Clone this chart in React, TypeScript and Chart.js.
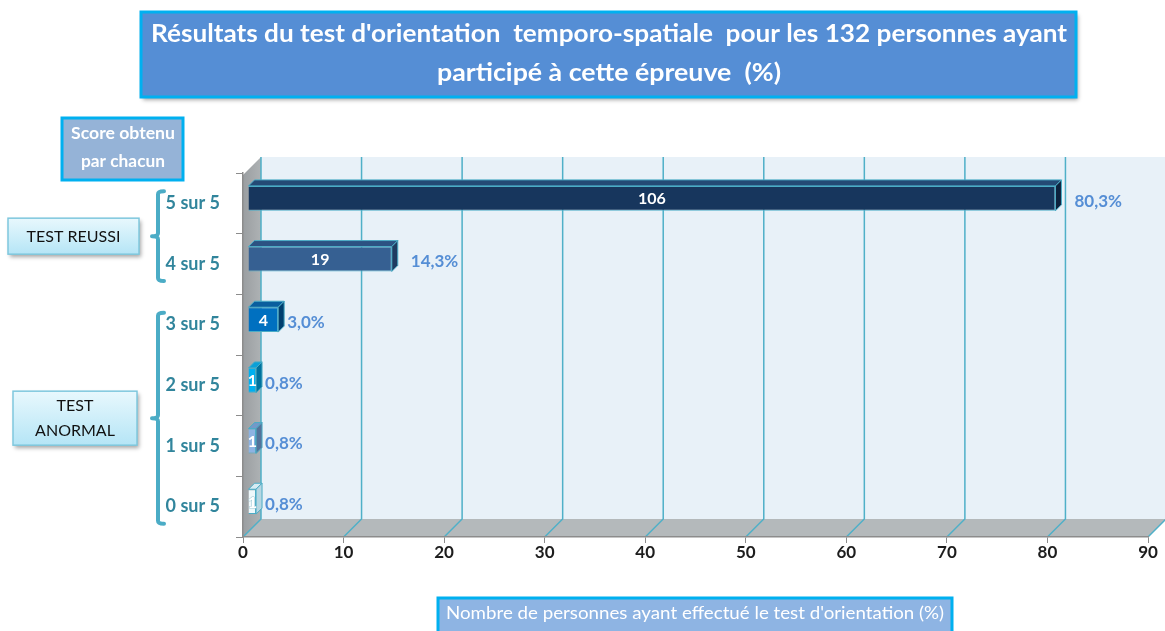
import React, { useEffect, useRef } from 'react';
import { Chart, registerables } from 'chart.js';

Chart.register(...registerables);

// ---------- data ----------
const categories = ['5 sur 5', '4 sur 5', '3 sur 5', '2 sur 5', '1 sur 5', '0 sur 5'];
const percentages = [80.3, 14.3, 3.0, 0.8, 0.8, 0.8];
const counts = [106, 19, 4, 1, 1, 1];
const percentLabels = ['80,3%', '14,3%', '3,0%', '0,8%', '0,8%', '0,8%'];
const xMin = 0;
const xMax = 90;
const xStep = 10;
const titleLines = [
  "Résultats du test d'orientation  temporo-spatiale  pour les 132 personnes ayant",
  'participé à cette épreuve  (%)',
];
const xAxisTitle = "Nombre de personnes ayant effectué le test d'orientation (%)";
const yAxisTitle = ['Score obtenu', 'par chacun'];
const groupLabels = [['TEST REUSSI'], ['TEST', 'ANORMAL']];
const groupFrom = [0, 2];
const groupTo = [1, 5];

// ---------- styles ----------
const FONT = "Lato, 'Open Sans', sans-serif";
const frontColors = ['#17365d', '#366092', '#0070c0', '#00b0f0', '#8db3e2', '#eef8fb'];
const topColors = ['#244a75', '#2c5282', '#0a5e9e', '#0aa0d8', '#7399c8', '#d6ebf2'];
const sideColors = ['#0d223d', '#1f3b60', '#003f6e', '#00729e', '#55739a', '#b6d6e2'];
const DEPTH = 18; // wall depth
const BAR_SHIFT_X = 5;
const BAR_SHIFT_Y = -5;
const BAR_D = 6; // bar depth
const Y_AXIS_W = 100;
const X_AXIS_H = 40;

function fitText(ctx: CanvasRenderingContext2D, text: string, cx: number, cy: number, target?: number) {
  ctx.save();
  ctx.textAlign = 'center';
  ctx.textBaseline = 'middle';
  if (target) {
    const w = ctx.measureText(text).width;
    ctx.translate(cx, cy);
    ctx.scale(target / w, 1);
    ctx.fillText(text, 0, 0);
  } else {
    ctx.fillText(text, cx, cy);
  }
  ctx.restore();
}

function box(ctx: CanvasRenderingContext2D, x: number, y: number, w: number, h: number, fill: string | CanvasGradient, stroke: string, lw: number, shadow = true) {
  ctx.save();
  if (shadow) {
    ctx.shadowColor = 'rgba(0,0,0,0.35)';
    ctx.shadowBlur = 4;
    ctx.shadowOffsetX = 2;
    ctx.shadowOffsetY = 3;
  }
  ctx.fillStyle = fill;
  ctx.fillRect(x, y, w, h);
  ctx.restore();
  ctx.save();
  ctx.strokeStyle = stroke;
  ctx.lineWidth = lw;
  ctx.strokeRect(x, y, w, h);
  ctx.restore();
}

const wallsPlugin = {
  id: 'walls3d',
  beforeDraw(chart: any) {
    const { ctx, chartArea, scales } = chart;
    const xs = scales.x;
    const L = chartArea.left, R = chartArea.right, T = chartArea.top, B = chartArea.bottom;
    ctx.save();
    // back wall
    ctx.fillStyle = '#e8f1f8';
    ctx.fillRect(L + DEPTH, T - DEPTH + 2, R - L, B - T - 2);
    // left wall
    const lg = ctx.createLinearGradient(L, 0, L + DEPTH, 0);
    lg.addColorStop(0, '#9a9ea1');
    lg.addColorStop(1, '#aeb2b4');
    ctx.fillStyle = lg;
    ctx.beginPath();
    ctx.moveTo(L, T + 2);
    ctx.lineTo(L + DEPTH, T - DEPTH + 2);
    ctx.lineTo(L + DEPTH, B - DEPTH);
    ctx.lineTo(L, B);
    ctx.closePath();
    ctx.fill();
    // floor
    ctx.fillStyle = '#b4b9bb';
    ctx.beginPath();
    ctx.moveTo(L, B);
    ctx.lineTo(L + DEPTH, B - DEPTH);
    ctx.lineTo(R + DEPTH, B - DEPTH);
    ctx.lineTo(R, B);
    ctx.closePath();
    ctx.fill();
    // grid lines on back wall and floor
    ctx.strokeStyle = '#4fb0c8';
    ctx.lineWidth = 1.5;
    for (let v = xMin; v <= xMax; v += xStep) {
      const px = xs.getPixelForValue(v);
      ctx.beginPath();
      ctx.moveTo(px + DEPTH, T - DEPTH + 2);
      ctx.lineTo(px + DEPTH, B - DEPTH);
      ctx.lineTo(px, B);
      ctx.stroke();
    }
    ctx.restore();
  },
};

const bars3dPlugin = {
  id: 'bars3d',
  beforeDatasetsDraw(chart: any) {
    chart.ctx.save();
    chart.ctx.translate(BAR_SHIFT_X, BAR_SHIFT_Y);
  },
  afterDatasetsDraw(chart: any) {
    const ctx = chart.ctx;
    ctx.restore();
    const meta = chart.getDatasetMeta(0);
    meta.data.forEach((el: any, i: number) => {
      const p = el.getProps(['x', 'y', 'base', 'height'], true);
      const L = Math.min(p.x, p.base) + BAR_SHIFT_X;
      const R = Math.max(p.x, p.base) + BAR_SHIFT_X;
      const T = p.y - p.height / 2 + BAR_SHIFT_Y;
      const Bt = p.y + p.height / 2 + BAR_SHIFT_Y;
      const cy = p.y + BAR_SHIFT_Y;
      ctx.save();
      ctx.strokeStyle = '#4bacc6';
      ctx.lineWidth = 1;
      ctx.lineJoin = 'round';
      // top face
      ctx.fillStyle = topColors[i];
      ctx.beginPath();
      ctx.moveTo(L, T);
      ctx.lineTo(L + BAR_D, T - BAR_D);
      ctx.lineTo(R + BAR_D, T - BAR_D);
      ctx.lineTo(R, T);
      ctx.closePath();
      ctx.fill();
      ctx.stroke();
      // side face
      ctx.fillStyle = sideColors[i];
      ctx.beginPath();
      ctx.moveTo(R, T);
      ctx.lineTo(R + BAR_D, T - BAR_D);
      ctx.lineTo(R + BAR_D, Bt - BAR_D);
      ctx.lineTo(R, Bt);
      ctx.closePath();
      ctx.fill();
      ctx.stroke();
      // count label
      ctx.fillStyle = '#ffffff';
      ctx.font = `bold 16px ${FONT}`;
      ctx.textAlign = 'center';
      ctx.textBaseline = 'middle';
      if (i === counts.length - 1) {
        ctx.strokeStyle = '#9fc7d4';
        ctx.lineWidth = 1;
        ctx.strokeText(String(counts[i]), (L + R) / 2, cy + 1);
      }
      ctx.fillText(String(counts[i]), (L + R) / 2, cy + 1);
      // percent label
      const gap = percentages[i] > 10 ? 13 : 3;
      ctx.fillStyle = '#558ed5';
      ctx.font = `bold 17px ${FONT}`;
      ctx.textAlign = 'left';
      ctx.fillText(percentLabels[i], R + BAR_D + gap, cy + 3);
      ctx.restore();
    });
  },
};

const annotationsPlugin = {
  id: 'annotations',
  afterDraw(chart: any) {
    const { ctx, scales } = chart;
    const ys = scales.y;
    // Title
    box(ctx, 141, 12, 935, 85, '#558ed5', '#00b0f0', 3);
    ctx.save();
    ctx.fillStyle = '#ffffff';
    ctx.font = `bold 25px ${FONT}`;
    fitText(ctx, titleLines[0], 609, 34, 916);
    fitText(ctx, titleLines[1], 609, 73, 344);
    ctx.restore();

    // y axis title
    box(ctx, 62, 118, 121, 62, '#95b3d7', '#00b0f0', 3, false);
    ctx.save();
    ctx.fillStyle = '#ffffff';
    ctx.font = `bold 17px ${FONT}`;
    fitText(ctx, yAxisTitle[0], 123, 134, 104);
    fitText(ctx, yAxisTitle[1], 123, 162, 84);
    ctx.restore();

    // x axis title
    box(ctx, 438, 598, 514, 40, '#8eb4e3', '#00b0f0', 3, false);
    ctx.save();
    ctx.fillStyle = '#ffffff';
    ctx.font = `17px ${FONT}`;
    fitText(ctx, xAxisTitle, 695, 614, 498);
    ctx.restore();

    // groups with brackets
    groupLabels.forEach((lines, g) => {
      const yTop = ys.getPixelForValue(groupFrom[g]) - 12;
      const yBot = ys.getPixelForValue(groupTo[g]) + 17;
      const mid = (yTop + yBot) / 2;
      const bx = 158;
      ctx.save();
      ctx.strokeStyle = '#4bacc6';
      ctx.lineWidth = 4;
      ctx.lineCap = 'round';
      ctx.lineJoin = 'round';
      ctx.beginPath();
      ctx.moveTo(bx + 6, yTop);
      ctx.quadraticCurveTo(bx, yTop, bx, yTop + 3);
      ctx.lineTo(bx, mid - 3);
      ctx.quadraticCurveTo(bx, mid, bx - 6, mid);
      ctx.quadraticCurveTo(bx, mid, bx, mid + 3);
      ctx.lineTo(bx, yBot - 3);
      ctx.quadraticCurveTo(bx, yBot, bx + 6, yBot);
      ctx.stroke();
      ctx.restore();

      const h = lines.length === 1 ? 36 : 54;
      const w = lines.length === 1 ? 131 : 124;
      const x0 = lines.length === 1 ? 8 : 13;
      const y0 = mid - h / 2;
      const grad = ctx.createLinearGradient(0, y0, 0, y0 + h);
      grad.addColorStop(0, '#e8f8fd');
      grad.addColorStop(1, '#b5e5f6');
      box(ctx, x0, y0, w, h, grad, '#7fc8de', 1.5);
      ctx.save();
      ctx.fillStyle = '#111111';
      ctx.font = `16px ${FONT}`;
      lines.forEach((t, k) => {
        const ly = lines.length === 1 ? mid + 1 : mid - 12 + k * 25;
        fitText(ctx, t, x0 + w / 2, ly);
      });
      ctx.restore();
    });
  },
};

export default function App() {
  const ref = useRef<HTMLCanvasElement | null>(null);
  useEffect(() => {
    document.body.style.margin = '0';
    const canvas = ref.current;
    if (!canvas) return;
    const chart = new Chart(canvas, {
      type: 'bar',
      data: {
        labels: categories,
        datasets: [
          {
            data: percentages,
            backgroundColor: frontColors,
            borderColor: '#4bacc6',
            borderWidth: 1,
            categoryPercentage: 1,
            barPercentage: 0.41,
          },
        ],
      },
      options: {
        responsive: false,
        animation: false,
        indexAxis: 'y',
        layout: { padding: { left: 243 - Y_AXIS_W, right: 17, top: 173, bottom: 94 - X_AXIS_H } },
        plugins: {
          legend: { display: false },
          tooltip: { enabled: false },
          title: { display: false },
        },
        scales: {
          x: {
            min: xMin,
            max: xMax,
            ticks: {
              stepSize: xStep,
              color: '#1d1d1d',
              font: { family: FONT, weight: 'bold', size: 17 },
              padding: -1,
              maxRotation: 0,
              autoSkip: false,
            },
            grid: { drawOnChartArea: false, drawTicks: true, tickLength: 6, color: '#8c8c8c' },
            border: { color: '#8c8c8c', width: 1.5 },
            afterFit(s: any) {
              s.height = X_AXIS_H;
            },
          },
          y: {
            ticks: {
              color: '#31859c',
              font: { family: FONT, weight: 'bold', size: 18 },
              padding: 16,
              autoSkip: false,
            },
            grid: { drawOnChartArea: false, drawTicks: true, tickLength: 7, color: '#8c8c8c', offset: true },
            border: { color: '#8c8c8c', width: 1.5 },
            afterFit(s: any) {
              s.width = Y_AXIS_W;
            },
          },
        },
      },
      plugins: [wallsPlugin, bars3dPlugin, annotationsPlugin],
    } as any);
    return () => chart.destroy();
  }, []);
  return (
    <div style={{ width: 1165, height: 631, position: 'relative', background: '#ffffff' }}>
      <canvas ref={ref} width={1165} height={631} style={{ display: 'block', width: 1165, height: 631 }} />
    </div>
  );
}
